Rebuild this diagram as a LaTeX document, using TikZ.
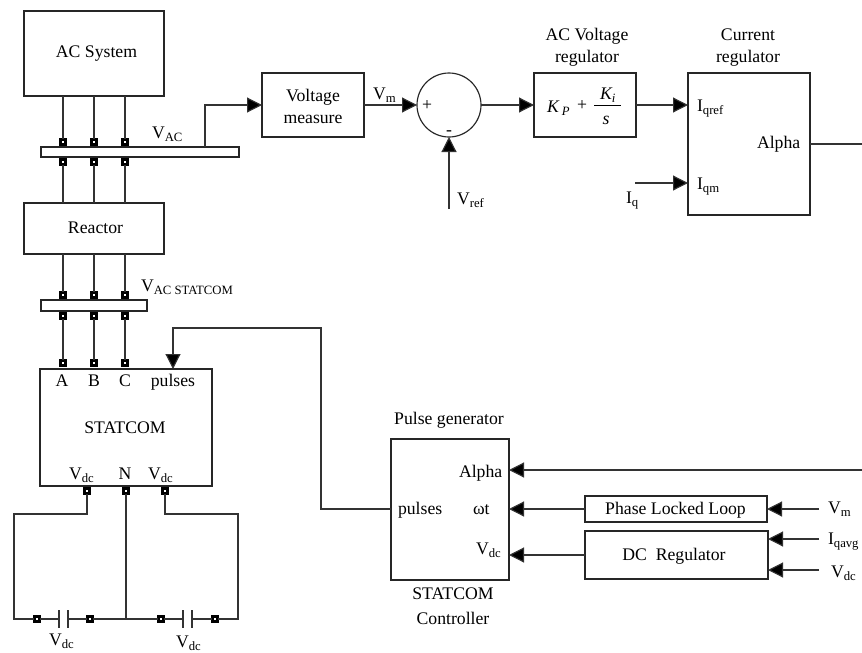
\documentclass[tikz,border=0pt]{standalone}
\usepackage{fontspec}
\setmainfont{Liberation Serif}
\usetikzlibrary{arrows.meta,calc}
\newcommand{\subt}[1]{\raisebox{-3.5pt}{\fontsize{12.7}{12.7}\selectfont #1}}
\tikzset{
  x=1pt,y=-1pt,
  every node/.style={font=\fontsize{17.7}{21.5}\selectfont,inner sep=0pt,outer sep=0pt},
  tx/.style={text height=12pt,text depth=0pt},
  wire/.style={line width=1.15pt,draw=black!80},
  arr/.style={wire,-{Triangle[length=15pt,width=15pt,fill=black]}},
  bx/.style={draw=black!85,line width=1.15pt,fill=none},
  sq/.style={draw=black,line width=2.7pt,fill=white,minimum size=5.4pt,rectangle},
  lbl/.style={tx,anchor=center,align=center},
  lft/.style={tx,anchor=west},
}
\newcommand{\boxnode}[6]{% name x1 y1 x2 y2 text
  \pgfmathsetmacro{\bw}{#4-#2}\pgfmathsetmacro{\bh}{#5-#3}
  \node[bx,tx,align=center,minimum width=\bw pt,minimum height=\bh pt] (#1) at ({(#2+#4)/2},{(#3+#5)/2}) {#6};}
\begin{document}
\begin{tikzpicture}
\useasboundingbox (0,0) rectangle (862,653);
% boxes
\boxnode{acsys}{24}{11}{164}{96}{}
\node[bx,minimum width=198pt,minimum height=10pt] (busA) at (140,152) {};
\boxnode{reactor}{24}{203}{164}{254}{}
\node[bx,minimum width=106pt,minimum height=11pt] (busB) at (94,305.5) {};
\boxnode{statcom}{40}{369}{212}{486}{}
\boxnode{vmeas}{262}{73}{364}{137}{}
\boxnode{kp}{534}{73}{636}{137}{}
\boxnode{curr}{688}{73}{810}{215}{}
\boxnode{pulse}{391}{439}{509}{580}{}
\boxnode{pll}{585}{496}{767}{522}{}
\boxnode{dcreg}{585}{531}{768}{579}{}
\node[draw=black!85,line width=1.15pt,circle,minimum size=64pt] (sum) at (449,105) {};
% squares
\foreach \n/\x in {a/63,b/94,c/125}{
  \node[sq] (t\n) at (\x,142) {};
  \node[sq] (u\n) at (\x,162) {};
  \node[sq] (v\n) at (\x,295) {};
  \node[sq] (w\n) at (\x,316) {};
  \node[sq] (z\n) at (\x,363) {};
  \coordinate (at\n) at (\x,96);
  \coordinate (rt\n) at (\x,203);
  \coordinate (rb\n) at (\x,254);
  \draw[wire] (at\n) -- (t\n);
  \draw[wire] (u\n) -- (rt\n);
  \draw[wire] (rb\n) -- (v\n);
  \draw[wire] (w\n) -- (z\n);
}
\node[sq] (d1) at (87,491) {};
\node[sq] (dn) at (126,491) {};
\node[sq] (d2) at (165,491) {};
\node[sq] (c1) at (37,619) {};
\node[sq] (c2) at (90,619) {};
\node[sq] (c3) at (161,619) {};
\node[sq] (c4) at (215,619) {};
% capacitor plates
\coordinate (p1t) at (59,610); \coordinate (p1b) at (59,628);
\coordinate (p2t) at (68,610); \coordinate (p2b) at (68,628);
\coordinate (p3t) at (183,610); \coordinate (p3b) at (183,628);
\coordinate (p4t) at (192,610); \coordinate (p4b) at (192,628);
\draw[wire] (p1t)--(p1b); \draw[wire] (p2t)--(p2b);
\draw[wire] (p3t)--(p3b); \draw[wire] (p4t)--(p4b);
\coordinate (p1) at (59,619); \coordinate (p2) at (68,619);
\coordinate (p3) at (183,619); \coordinate (p4) at (192,619);
\coordinate (nj) at (126,619);
\coordinate (ll) at (14,619); \coordinate (lu) at (14,514); \coordinate (lr) at (87,514);
\coordinate (rr) at (238,619); \coordinate (ru) at (238,514); \coordinate (rl) at (165,514);
\draw[wire] (d1) -- (lr) -- (lu) -- (ll) -- (c1) -- (p1);
\draw[wire] (p2) -- (c2) -- (nj) -- (c3) -- (p3);
\draw[wire] (p4) -- (c4) -- (rr) -- (ru) -- (rl) -- (d2);
\draw[wire] (dn) -- (nj);
% top signal path
\coordinate (tap) at (205,147); \coordinate (tapu) at (205,105);
\draw[arr] (tap) -- (tapu) -- (vmeas.west);
\draw[arr] (vmeas.east) -- (sum.west);
\draw[arr] (sum.east) -- (kp.west);
\draw[arr] (kp.east) -- (curr.west |- kp.east);
\coordinate (vr) at (449,209);
\draw[arr] (vr) -- (sum.south);
\coordinate (iqs) at (635,183); \coordinate (iqe) at (688,183);
\draw[arr] (iqs) -- (iqe);
\coordinate (aout) at (810,144); \coordinate (aend) at (862,144);
\draw[wire] (aout) -- (aend);
% bottom signal path
\coordinate (ain) at (862,470); \coordinate (apt) at (509,470);
\draw[arr] (ain) -- (apt);
\coordinate (wpt) at (509,509);
\draw[arr] (pll.west) -- (wpt);
\coordinate (vpt) at (509,555);
\draw[arr] (dcreg.west) -- (vpt);
\coordinate (vmi) at (819,509);
\draw[arr] (vmi) -- (pll.east);
\coordinate (iqi) at (819,539); \coordinate (iqd) at (768,539);
\draw[arr] (iqi) -- (iqd);
\coordinate (vdi) at (819,570); \coordinate (vdd) at (768,570);
\draw[arr] (vdi) -- (vdd);
\coordinate (pw) at (391,509); \coordinate (pa) at (321,509); \coordinate (pb) at (321,328);
\coordinate (pc) at (173,328); \coordinate (pd) at (173,369);
\draw[arr] (pw) -- (pa) -- (pb) -- (pc) -- (pd);
% labels
\node[lbl] (lacs) at (96.5,51) {AC System};
\node[lbl] (lrea) at (95.5,227) {Reactor};
\node[lbl] (lvms) at (313,117) {Voltage\\measure};
\node[lbl] (lpll) at (675.5,508) {Phase Locked Loop};
\node[lbl] (ldcr) at (674,554) {DC\ \ Regulator};
\node[lft] (lvac) at (152,132) {V\subt{AC}};
\node[lft] (lvst) at (141,285) {V\subt{AC STATCOM}};
\node[lbl] (lA) at (62,380) {A};
\node[lbl] (lB) at (94,380) {B};
\node[lbl] (lC) at (125,380) {C};
\node[lbl] (lpu) at (173,380) {pulses};
\node[lbl] (lst) at (125,427) {STATCOM};
\node[lft] (lv1) at (69,473) {V\subt{dc}};
\node[lbl] (lN) at (125,473) {N};
\node[lft] (lv2) at (148,473) {V\subt{dc}};
\node[lft] (lv3) at (49,639) {V\subt{dc}};
\node[lft] (lv4) at (176,641) {V\subt{dc}};
\node[lft] (lvm) at (373,93) {V\subt{m}};
\node[lbl] (lplus) at (427,104) {+};
\node[lbl] (lminus) at (449,129) {-};
\node[lft] (lvref) at (457,198) {V\subt{ref}};
\node[lbl] (lacv) at (587,56) {AC Voltage\\regulator};
\node[lbl] (lcur) at (748,56) {Current\\regulator};
\node[lft,font=\fontsize{17.7}{21.5}\selectfont\itshape] (lkp) at (547,106) {K\,\subt{P}};
\node[lbl] (lkplus) at (582,104) {+};
\node[lft,font=\fontsize{17.7}{21.5}\selectfont\itshape] (lki) at (600,93) {K\subt{i}};
\node[lbl,font=\fontsize{17.7}{21.5}\selectfont\itshape] (ls) at (606,118) {s};
\coordinate (fa) at (594,105.5); \coordinate (fb) at (621,105.5);
\draw[line width=1.6pt,black] (fa) -- (fb);
\node[lft] (liqr) at (697,105) {I\subt{qref}};
\node[lft] (lalpha) at (757,142) {Alpha};
\node[lft] (liqm) at (697,183) {I\subt{qm}};
\node[lft] (liq) at (626,197) {I\subt{q}};
\node[lbl] (lpg) at (449,418) {Pulse generator};
\node[lft] (la2) at (459,471) {Alpha};
\node[lft] (lp2) at (398,508) {pulses};
\node[lft] (lwt) at (473,508) {ωt};
\node[lft] (lvd2) at (476,548) {V\subt{dc}};
\node[lbl] (lsc) at (453,593) {STATCOM};
\node[lbl] (lctl) at (453,618) {Controller};
\node[lft] (lvm2) at (828,507) {V\subt{m}};
\node[lft] (liqa) at (828,538) {I\subt{qavg}};
\node[lft] (lvd3) at (831,571) {V\subt{dc}};
\end{tikzpicture}
\end{document}
